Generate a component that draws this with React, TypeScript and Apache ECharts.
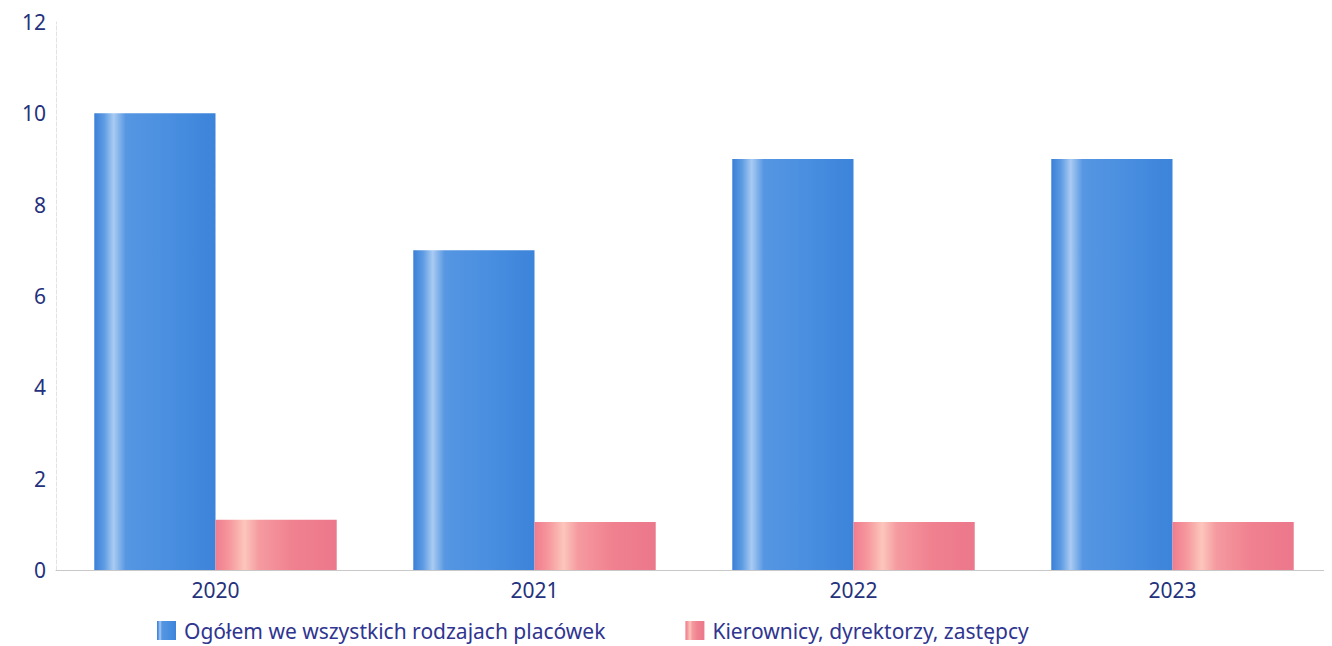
import React, { useEffect, useRef } from "react";
import * as echarts from "echarts";

const categories = ["2020", "2021", "2022", "2023"];
const seriesNames = ["Ogółem we wszystkich rodzajach placówek", "Kierownicy, dyrektorzy, zastępcy"];
const totalValues = [10.0, 7.0, 9.0, 9.0];
const managerValues = [1.1, 1.05, 1.05, 1.05];
const yTicks = [0, 2, 4, 6, 8, 10, 12];

const FONT = "'Noto Sans', 'Open Sans', sans-serif";
const TEXT = "#24317c";

function grad(stops: [number, string][]) {
  return new echarts.graphic.LinearGradient(
    0, 0, 1, 0,
    stops.map(([offset, color]) => ({ offset, color }))
  );
}

const blueGrad = grad([
  [0, "#3a7fd6"],
  [0.08, "#5d9be3"],
  [0.16, "#a9cbf2"],
  [0.26, "#5696e2"],
  [0.6, "#4a8fe0"],
  [1, "#3c84da"],
]);
const pinkGrad = grad([
  [0, "#f07c8e"],
  [0.12, "#f6999e"],
  [0.24, "#fcc6bc"],
  [0.36, "#f59aa0"],
  [0.65, "#f0808f"],
  [1, "#eb788b"],
]);

export default function App() {
  const ref = useRef<HTMLDivElement>(null);
  useEffect(() => {
    if (!ref.current) return;
    const chart = echarts.init(ref.current, null, { renderer: "svg" });
    chart.setOption({
      animation: false,
      backgroundColor: "#ffffff",
      textStyle: { fontFamily: FONT },
      grid: { left: 48, right: 0, top: 14, bottom: 76, containLabel: false },
      legend: {
        left: 144,
        bottom: 0,
        itemWidth: 19,
        itemHeight: 19,
        itemGap: 80,
        icon: "rect",
        textStyle: { fontSize: 21, color: "#2f3590", fontFamily: FONT, padding: [0, 0, 0, 3] },
        data: seriesNames,
      },
      xAxis: {
        type: "category",
        data: categories,
        axisLine: { lineStyle: { color: "#c8c8c8", width: 1 } },
        axisTick: { show: false },
        axisLabel: { fontSize: 21, color: TEXT, margin: 9, fontFamily: FONT },
      },
      yAxis: {
        type: "value",
        min: 0,
        max: 12,
        interval: 2,
        axisLine: { show: true, lineStyle: { color: "#e2e2e2", type: "dashed" } },
        axisTick: { show: false },
        splitLine: { show: false },
        axisLabel: {
          fontSize: 21,
          color: TEXT,
          margin: 10,
          fontFamily: FONT,
          formatter: (v: number) => (yTicks.includes(v) ? String(v) : ""),
        },
      },
      series: [
        {
          name: seriesNames[0],
          type: "bar",
          data: totalValues,
          barGap: "0%",
          barCategoryGap: "24%",
          itemStyle: { color: blueGrad },
        },
        {
          name: seriesNames[1],
          type: "bar",
          data: managerValues,
          barGap: "0%",
          barCategoryGap: "24%",
          itemStyle: { color: pinkGrad },
        },
      ],
    });
    return () => chart.dispose();
  }, []);
  return <div ref={ref} style={{ width: 1324, height: 638 }} />;
}
